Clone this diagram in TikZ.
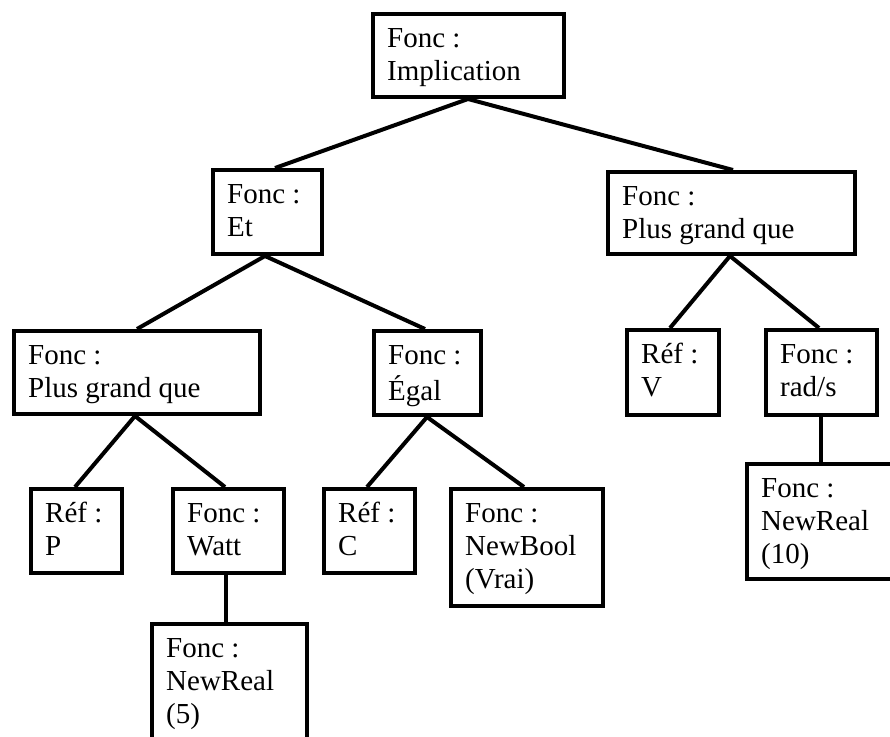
\documentclass[tikz,border=0pt]{standalone}
\usepackage{fontspec}
\setmainfont{Liberation Serif}
\begin{document}
\begin{tikzpicture}[x=1pt,y=-1pt,
  box/.style={draw=black, line width=4pt, inner sep=0pt, anchor=north west},
  txt/.style={anchor=north west, inner sep=0pt, align=left, font=\fontsize{29}{33}\selectfont},
  conn/.style={draw=black, line width=4pt}]
\useasboundingbox (0,0) rectangle (890,736);
\fill[white] (0,0) rectangle (890,736);
\newcommand{\tb}[6]{%
  \node[box, minimum width=#4pt, minimum height=#5pt] (#1) at (#2,#3) {};
  \node[txt] (#1-t) at ([shift={(16pt,-12pt)}]#1.north west) {#6};
}
\tb{root}{371}{12}{191}{83}{\strut Fonc :\\\strut Implication}
\tb{et}{211}{168}{109}{84}{\strut Fonc :\\\strut Et}
\tb{pgqr}{606}{170}{247}{82}{\strut Fonc :\\\strut Plus grand que}
\tb{pgql}{12}{329}{246}{83}{\strut Fonc :\\\strut Plus grand que}
\tb{egal}{372}{329}{107}{84}{\strut Fonc :\\\strut Égal}
\tb{refv}{625}{328}{92}{85}{\strut Réf :\\\strut V}
\tb{rads}{764}{328}{111}{85}{\strut Fonc :\\\strut rad/s}
\tb{refp}{29}{487}{91}{84}{\strut Réf :\\\strut P}
\tb{watt}{171}{487}{111}{84}{\strut Fonc :\\\strut Watt}
\tb{refc}{322}{487}{91}{84}{\strut Réf :\\\strut C}
\tb{newbool}{449}{487}{152}{117}{\strut Fonc :\\\strut NewBool\\\strut (Vrai)}
\tb{nrten}{745}{462}{160}{115}{\strut Fonc :\\\strut NewReal\\\strut (10)}
\tb{nrfive}{150}{622}{155}{130}{\strut Fonc :\\\strut NewReal\\\strut (5)}

\draw[conn] ([xshift=97pt]root.south west) -- ([xshift=64pt]et.north west);
\draw[conn] ([xshift=97pt]root.south west) -- ([xshift=127pt]pgqr.north west);
\draw[conn] ([xshift=54pt]et.south west) -- ([xshift=125pt]pgql.north west);
\draw[conn] ([xshift=54pt]et.south west) -- ([xshift=53pt]egal.north west);
\draw[conn] ([xshift=123pt]pgql.south west) -- ([xshift=46pt]refp.north west);
\draw[conn] ([xshift=123pt]pgql.south west) -- ([xshift=54pt]watt.north west);
\draw[conn] ([xshift=55pt]egal.south west) -- ([xshift=45pt]refc.north west);
\draw[conn] ([xshift=55pt]egal.south west) -- ([xshift=75pt]newbool.north west);
\draw[conn] ([xshift=124pt]pgqr.south west) -- ([xshift=45pt]refv.north west);
\draw[conn] ([xshift=124pt]pgqr.south west) -- ([xshift=55pt]rads.north west);
\draw[conn] ([xshift=57pt]rads.south west) -- ([xshift=76pt]nrten.north west);
\draw[conn] ([xshift=55pt]watt.south west) -- ([xshift=76pt]nrfive.north west);
\end{tikzpicture}
\end{document}
